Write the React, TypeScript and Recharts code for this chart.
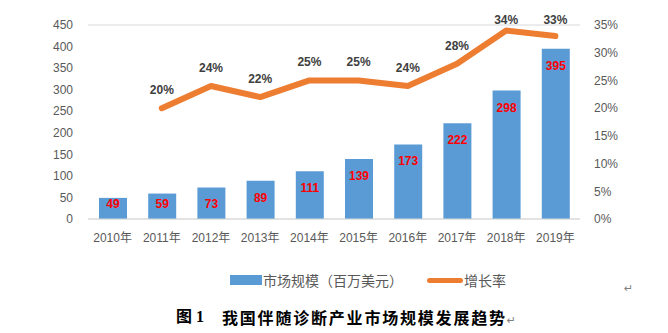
import React from 'react';
import { ComposedChart, Bar, Line, XAxis, YAxis, CartesianGrid, Legend, LabelList } from 'recharts';

const years = ['2010年', '2011年', '2012年', '2013年', '2014年', '2015年', '2016年', '2017年', '2018年', '2019年'];
const marketSize = [49, 59, 73, 89, 111, 139, 173, 222, 298, 395];
const growthRate: (number | null)[] = [null, 20, 24, 22, 25, 25, 24, 28, 34, 33];
const leftTicks = [0, 50, 100, 150, 200, 250, 300, 350, 400, 450];
const rightTicks = [0, 5, 10, 15, 20, 25, 30, 35];

const data = years.map((y, i) => ({ year: y, size: marketSize[i], rate: growthRate[i] }));

const FONT = '"Liberation Sans", "Noto Sans CJK SC", sans-serif';
const BLUE = '#5B9BD5';
const ORANGE = '#ED7D31';
const GRAY = '#595959';

const BarLabel = (props: any) => {
  const { x, y, width, height, value } = props;
  const cy = Math.min(y + 17, y + height - 15);
  return (
    <text x={x + width / 2} y={cy} textAnchor="middle" dominantBaseline="central" fill="#FF0000" fontWeight="bold" fontSize={12} fontFamily={FONT}>
      {value}
    </text>
  );
};

const RateLabel = (props: any) => {
  const { x, y, value } = props;
  if (value == null) return null;
  const cy = Math.max(y - 18, 20);
  return (
    <text x={x} y={cy} textAnchor="middle" dominantBaseline="central" fill="#404040" fontWeight="bold" fontSize={12} fontFamily={FONT}>
      {value}%
    </text>
  );
};

const LegendContent = () => (
  <div style={{ position: 'relative', height: 20, width: 668, fontFamily: '"Noto Sans CJK SC", sans-serif', fontSize: 14, color: GRAY }}>
    <div style={{ position: 'absolute', left: 230, top: 5, width: 32, height: 10, background: BLUE }} />
    <div style={{ position: 'absolute', left: 263, top: 0, lineHeight: '20px', whiteSpace: 'nowrap' }}>市场规模（百万美元）</div>
    <div style={{ position: 'absolute', left: 427, top: 8, width: 36, height: 5, background: ORANGE, borderRadius: 3 }} />
    <div style={{ position: 'absolute', left: 464, top: 0, lineHeight: '20px', whiteSpace: 'nowrap' }}>增长率</div>
  </div>
);

export default function App() {
  return (
    <div style={{ position: 'absolute', left: 0, top: 0, width: 668, height: 333, background: '#fff', overflow: 'hidden' }}>
      <ComposedChart width={668} height={333} data={data} margin={{ top: 25, right: 0, bottom: 64, left: 0 }} barCategoryGap="21.5%">
        <CartesianGrid vertical={false} stroke="#D9D9D9" />
        <XAxis
          dataKey="year"
          height={30}
          tickLine={false}
          tickSize={0}
          tickMargin={14}
          axisLine={{ stroke: '#D9D9D9' }}
          tick={{ fill: GRAY, fontSize: 12, fontFamily: FONT }}
          interval={0}
        />
        <YAxis
          yAxisId="left"
          width={88}
          domain={[0, 450]}
          ticks={leftTicks}
          interval={0}
          tickLine={false}
          tickSize={0}
          tickMargin={15}
          axisLine={false}
          tick={{ fill: GRAY, fontSize: 12, fontFamily: FONT }}
        />
        <YAxis
          yAxisId="right"
          orientation="right"
          width={88}
          domain={[0, 35]}
          ticks={rightTicks}
          interval={0}
          tickFormatter={(v: number) => `${v}%`}
          tickLine={false}
          tickSize={0}
          tickMargin={14}
          axisLine={false}
          tick={{ fill: GRAY, fontSize: 12, fontFamily: FONT }}
        />
        <Bar yAxisId="left" dataKey="size" fill={BLUE} barSize={28} isAnimationActive={false}>
          <LabelList dataKey="size" content={<BarLabel />} />
        </Bar>
        <Line
          yAxisId="right"
          dataKey="rate"
          stroke={ORANGE}
          strokeWidth={6}
          strokeLinecap="round"
          strokeLinejoin="round"
          dot={false}
          activeDot={false}
          type="linear"
          connectNulls={false}
          isAnimationActive={false}
        >
          <LabelList dataKey="rate" content={<RateLabel />} />
        </Line>
        <Legend content={<LegendContent />} wrapperStyle={{ top: 270, left: 0, width: 668, height: 20 }} />
      </ComposedChart>
      <div style={{ position: 'absolute', left: 624, top: 282, fontSize: 11, color: '#7F7F7F', fontFamily: '"DejaVu Sans", sans-serif' }}>↵</div>
      <div style={{ position: 'absolute', left: 176, top: 307, fontSize: 16, lineHeight: '20px', fontWeight: 'bold', color: '#000', fontFamily: '"Liberation Serif", "Noto Sans CJK SC", serif', whiteSpace: 'nowrap' }}>
        图 1
      </div>
      <div style={{ position: 'absolute', left: 222, top: 307, fontSize: 16, lineHeight: '20px', fontWeight: 'bold', color: '#000', letterSpacing: '1.8px', fontFamily: '"Noto Sans CJK SC", serif', whiteSpace: 'nowrap' }}>
        我国伴随诊断产业市场规模发展趋势<span style={{ fontWeight: 'normal', fontSize: 11, color: '#7F7F7F', letterSpacing: 0, fontFamily: '"DejaVu Sans", sans-serif' }}>↵</span>
      </div>
    </div>
  );
}
